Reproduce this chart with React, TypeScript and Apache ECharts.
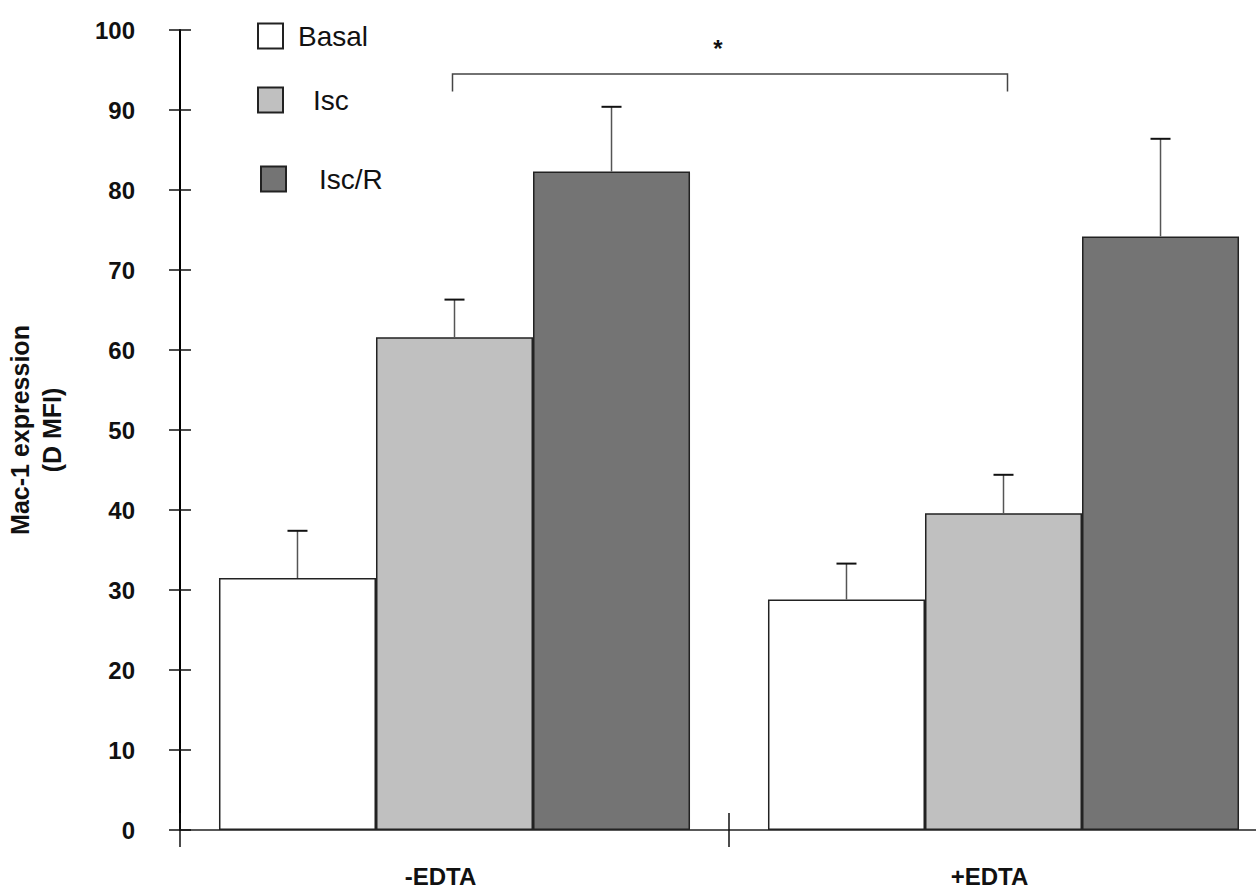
import React, { useEffect, useRef } from "react";
import * as echarts from "echarts";

const categories = ["-EDTA", "+EDTA"];
const seriesNames = ["Basal", "Isc", "Isc/R"];
const basal = [31.5, 28.8];
const basalErr = [5.9, 4.5];
const isc = [61.6, 39.6];
const iscErr = [4.7, 4.8];
const iscR = [82.3, 74.2];
const iscRErr = [8.1, 12.2];
const yMin = 0;
const yMax = 100;
const yInterval = 10;
const bracketLevel = 94.5;
const bracketDrop = 92.3;

const GAP = 0.142;
const FONT = "'Liberation Sans', Arial, sans-serif";

export default function App() {
  const ref = useRef<HTMLDivElement>(null);
  useEffect(() => {
    if (!ref.current) return;
    const chart = echarts.init(ref.current, undefined, { renderer: "svg" });
    const means = [basal, isc, iscR];
    const errs = [basalErr, iscErr, iscRErr];
    const colors = ["#ffffff", "#c0c0c0", "#747474"];
    const errData: number[][] = [];
    means.forEach((m, k) => m.forEach((v, i) => errData.push([i, v, errs[k][i], k])));

    const yAxisBase = {
      type: "value",
      min: yMin,
      max: yMax,
      interval: yInterval,
      position: "left",
      splitLine: { show: false },
    };
    const option: any = {
      animation: false,
      backgroundColor: "#ffffff",
      grid: {
        left: 180,
        top: 30,
        width: 1098,
        height: 800,
        containLabel: false,
        outerBoundsMode: "none",
      },
      legend: seriesNames.map((n, k) => ({
        data: [n],
        left: [257, 257, 260][k],
        top: [22, 86, 165][k],
        padding: 0,
        itemWidth: 25,
        itemHeight: 25,
        icon: "rect",
        selectedMode: false,
        textStyle: {
          fontFamily: FONT,
          fontSize: 28,
          color: "#111",
          padding: [0, 0, [12, 12, 2][k], [10, 25, 28][k]],
        },
      })),
      xAxis: [
        {
          type: "category",
          data: categories,
          axisLine: { lineStyle: { color: "#222", width: 1.5 } },
          axisTick: { show: true, length: 17, lineStyle: { color: "#111", width: 1.5 } },
          axisLabel: {
            fontFamily: FONT,
            fontSize: 24,
            fontWeight: "bold",
            color: "#111",
            margin: 34,
            padding: [0, 28, 0, 0],
          },
        },
        {
          type: "category",
          data: categories,
          position: "bottom",
          axisLine: { show: false },
          axisTick: { show: true, inside: true, length: 17, lineStyle: { color: "#111", width: 1.5 } },
          axisLabel: { show: false },
        },
      ],
      yAxis: [
        {
          ...yAxisBase,
          name: "Mac-1 expression\n(D MFI)",
          nameLocation: "middle",
          nameRotate: 90,
          nameGap: 112,
          nameTextStyle: {
            fontFamily: FONT,
            fontSize: 25,
            fontWeight: "bold",
            color: "#111",
            lineHeight: 32,
          },
          axisLine: { show: true, lineStyle: { color: "#000", width: 2 } },
          axisTick: { show: true, length: 11, lineStyle: { color: "#111", width: 1.5 } },
          axisLabel: {
            fontFamily: FONT,
            fontSize: 24,
            fontWeight: "bold",
            color: "#111",
            margin: 45,
            padding: [0, 0, 10, 0],
          },
        },
        {
          ...yAxisBase,
          axisLine: { show: false },
          axisTick: { show: true, inside: true, length: 11, lineStyle: { color: "#111", width: 1.5 } },
          axisLabel: { show: false },
        },
      ],
      series: [
        ...means.map((m, k) => ({
          name: seriesNames[k],
          type: "bar",
          data: m,
          barGap: 0,
          barCategoryGap: GAP * 100 + "%",
          itemStyle: { color: colors[k], borderColor: "#222", borderWidth: 1.5 },
        })),
        {
          name: "error",
          type: "custom",
          data: errData,
          encode: { x: 0, y: 1 },
          z: 5,
          renderItem: (params: any, api: any) => {
            const cat = api.value(0);
            const v = api.value(1);
            const e = api.value(2);
            const k = api.value(3);
            const catW = api.size([1, 0])[0];
            const bw = (catW * (1 - GAP)) / 3;
            const cx = api.coord([cat, 0])[0] + (k - 1) * bw;
            const yTop = api.coord([cat, v + e])[1];
            const yBot = api.coord([cat, v])[1];
            return {
              type: "group",
              children: [
                { type: "line", shape: { x1: cx, y1: yBot, x2: cx, y2: yTop }, style: { stroke: "#555", lineWidth: 1.5 } },
                { type: "line", shape: { x1: cx - 10, y1: yTop, x2: cx + 10, y2: yTop }, style: { stroke: "#111", lineWidth: 2 } },
              ],
            };
          },
        },
      ],
    };
    chart.setOption(option);

    const x1 = chart.convertToPixel({ xAxisIndex: 0 }, categories[0]) as number;
    const x2 = chart.convertToPixel({ xAxisIndex: 0 }, categories[1]) as number;
    const yL = chart.convertToPixel({ yAxisIndex: 0 }, bracketLevel) as number;
    const yD = chart.convertToPixel({ yAxisIndex: 0 }, bracketDrop) as number;
    chart.setOption({
      graphic: [
        {
          type: "polyline",
          shape: { points: [[x1 - 2, yD], [x1 - 2, yL], [x2 + 4, yL], [x2 + 4, yD]] },
          style: { stroke: "#444", lineWidth: 1.5, fill: "none" },
        },
        {
          type: "text",
          x: (x1 + x2) / 2 - 11,
          y: yL - 26,
          style: {
            text: "*",
            fontFamily: FONT,
            fontSize: 24,
            fontWeight: "bold",
            fill: "#111",
            align: "center",
            verticalAlign: "middle",
          },
        },
      ],
    });
    return () => chart.dispose();
  }, []);
  return (
    <div
      ref={ref}
      style={{ position: "absolute", left: 0, top: 0, width: 1256, height: 890 }}
    />
  );
}
